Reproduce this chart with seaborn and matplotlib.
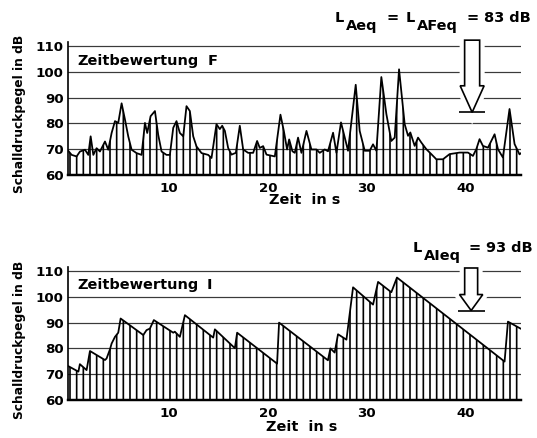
import matplotlib
matplotlib.use("Agg")
import matplotlib.pyplot as plt
import matplotlib.patheffects as pe
from matplotlib.patches import FancyArrow
import seaborn as sns

# Zeitbewertung F: Schalldruckpegel über der Zeit (s, dB)
f_time = [-0.2, 0.17, 0.67, 1.01, 1.52, 1.85, 2.09, 2.36, 2.69, 3.03, 3.54, 3.87,
          4.21, 4.55, 4.88, 5.22, 5.56, 5.89, 6.23, 6.73, 7.24, 7.58, 7.81, 8.15,
          8.59, 8.92, 9.26, 9.76, 10.1, 10.44, 10.77, 11.11, 11.45, 11.78, 12.12,
          12.46, 12.79, 13.3, 13.97, 14.31, 14.81, 15.15, 15.39, 15.66, 15.99,
          16.33, 16.77, 17.17, 17.51, 18.01, 18.52, 18.92, 19.19, 19.53, 19.87,
          20.71, 21.28, 21.62, 21.95, 22.16, 22.49, 22.73, 23.06, 23.4, 23.91,
          24.41, 24.92, 25.25, 25.76, 26.09, 26.6, 26.94, 27.4, 27.7, 28.11,
          28.89, 29.29, 29.8, 30.3, 30.64, 30.98, 31.48, 31.99, 32.49, 32.83,
          33.27, 33.84, 34.18, 34.41, 34.85, 35.19, 35.52, 36.03, 36.53, 37.04,
          37.71, 38.38, 39.39, 40.24, 40.74, 41.08, 41.41, 41.75, 42.26, 42.93,
          43.27, 43.77, 44.44, 44.95, 45.45, 45.6]
f_level = [69.5, 67.8, 67.2, 69.1, 69.8, 67.8, 75.0, 67.8, 70.4, 69.1, 73.0, 69.8,
           76.3, 80.9, 80.2, 87.8, 81.5, 75.0, 69.8, 68.5, 67.8, 80.2, 76.3, 82.8,
           84.8, 75.6, 69.1, 67.8, 67.8, 78.3, 80.9, 76.3, 75.0, 86.7, 84.8,
           75.0, 71.1, 68.5, 67.8, 66.6, 79.7, 77.8, 79.1, 77.1, 70.5,
           67.9, 68.6, 79.1, 69.9, 68.6, 68.6, 73.2, 70.5, 71.2, 67.9,
           67.2, 83.4, 77.1, 69.9, 73.8, 69.2, 68.6, 74.5, 68.6, 77.1,
           69.9, 69.9, 68.6, 69.9, 69.2, 76.4, 68.6, 80.4, 75.8, 69.4,
           95.0, 77.1, 69.4, 69.4, 71.9, 69.4, 98.0, 83.6, 73.2, 74.5,
           101.0, 79.7, 75.2, 76.5, 71.3, 74.5, 72.6, 70.0, 68.1, 66.1,
           66.1, 68.1, 68.7, 68.7, 67.4, 70.0, 73.9, 71.3, 70.6, 75.8,
           70.0, 66.8, 85.6, 72.0, 68.0, 68.5]

# Zeitbewertung I (Impuls): Sägezahnverlauf
i_time = [-0.2, 0.85, 1.0, 1.68, 2.02, 3.54, 3.7, 4.04, 4.21, 4.55, 4.88, 5.12,
          7.41, 7.74, 8.08, 8.48, 10.44, 10.6, 11.11, 11.62, 14.48, 14.65, 16.67,
          16.9, 20.94, 21.14, 26.08, 26.33, 26.76, 27.1, 27.95, 28.62, 30.64,
          31.15, 32.49, 33.06, 43.94, 44.28, 45.6]
i_level = [73.2, 71.0, 73.9, 71.6, 79.0, 75.5, 76.1, 79.6, 81.9, 84.5, 86.1, 91.6,
           85.2, 87.1, 87.7, 91.0, 86.1, 86.5, 84.5, 92.9, 84.2, 87.4, 80.1,
           86.1, 74.1, 90.0, 75.4, 80.0, 78.4, 85.5, 83.4, 103.7, 97.0,
           105.8, 101.8, 107.5, 74.9, 90.4, 87.6]

x_ticks = [10, 20, 30, 40]
y_ticks = [60, 70, 80, 90, 100, 110]

W, H, DPI = 537, 438, 80

sns.set_style("white")
plt.rcParams["font.family"] = ["DejaVu Sans"]
plt.rcParams["font.weight"] = "bold"
plt.rcParams["text.color"] = "black"
plt.rcParams["xtick.color"] = "black"
plt.rcParams["ytick.color"] = "black"
plt.rcParams["hatch.linewidth"] = 1.5
plt.rcParams["hatch.color"] = "black"


def fx(px):
    return px / W


def fy(py):
    return 1 - py / H


def draw_panel(ax, t, level, arrow_x, arrow_top, arrow_tip, shaft, head, head_len):
    # senkrechte Schraffur unter der Pegelkurve
    ax.fill_between(t, 60, level, facecolor="none", edgecolor="black",
                    hatch="||", linewidth=0, zorder=2)
    sns.lineplot(x=t, y=level, ax=ax, color="black", linewidth=1.6, zorder=3)
    ax.set_xlim(-0.2, 45.6)
    ax.set_ylim(60, 111.7)
    ax.set_xticks(x_ticks)
    ax.set_yticks(y_ticks)
    ax.tick_params(axis="both", length=0, labelsize=12, pad=4, labelcolor="black")
    ax.tick_params(axis="x", pad=6)
    ax.grid(axis="y", color="#3a3a3a", linewidth=1.1)
    ax.grid(axis="x", visible=False)
    for s in ["top", "right"]:
        ax.spines[s].set_visible(False)
    ax.spines["left"].set_linewidth(1.5)
    ax.spines["bottom"].set_linewidth(2.2)
    ax.spines["left"].set_color("black")
    ax.spines["bottom"].set_color("black")
    ax.set_xlabel("")
    ax.set_ylabel("")

    # Pfeil auf den Mittelungspegel
    arr = FancyArrow(arrow_x, arrow_top, 0, arrow_tip - arrow_top, width=shaft,
                     head_width=head, head_length=head_len, length_includes_head=True,
                     facecolor="white", edgecolor="black", linewidth=1.5,
                     clip_on=False, zorder=5)
    arr.set_path_effects([pe.Stroke(linewidth=9, foreground="white"), pe.Normal()])
    ax.add_patch(arr)
    ax.plot([arrow_x - 1.35, arrow_x + 1.35], [arrow_tip, arrow_tip], color="black",
            linewidth=1.5, zorder=6, solid_capstyle="butt")


fig = plt.figure(figsize=(W / DPI, H / DPI), dpi=DPI)

ax1 = fig.add_axes([fx(68), fy(175), fx(521) - fx(68), fy(41.7) - fy(175)])
draw_panel(ax1, f_time, f_level, 40.66, 112.3, 84.3, 1.52, 2.42, 10.3)

ax2 = fig.add_axes([fx(68), fy(400), fx(521) - fx(68), fy(266.7) - fy(400)])
draw_panel(ax2, i_time, i_level, 40.56, 111.2, 94.7, 1.31, 2.35, 6.2)

# Achsenbeschriftungen
for py_c in [114, 340]:
    fig.text(fx(20), fy(py_c), "Schalldruckpegel in dB", rotation=90,
             ha="center", va="center", fontsize=11)
for px_c, py_c in [(305, 200), (302, 427)]:
    fig.text(fx(px_c), fy(py_c), "Zeit  in s", ha="center", va="center", fontsize=13)

fig.text(fx(77), fy(65), "Zeitbewertung", ha="left", va="baseline", fontsize=13)
fig.text(fx(208), fy(65), "F", ha="left", va="baseline", fontsize=13)
fig.text(fx(77), fy(289), "Zeitbewertung", ha="left", va="baseline", fontsize=13)
fig.text(fx(207), fy(289), "I", ha="left", va="baseline", fontsize=13)

# L_Aeq = L_AFeq = 83 dB
for px, py, s in [(335, 22, "L"), (346, 30, "Aeq"), (387, 22, "="), (406, 22, "L"),
                  (417, 30, "AFeq"), (466, 22, "="), (484, 22, "83 dB")]:
    fig.text(fx(px), fy(py), s, ha="left", va="baseline", fontsize=13)

# L_AIeq = 93 dB
for px, py, s in [(413, 252, "L"), (424, 260, "AIeq"), (469, 252, "="), (486, 252, "93 dB")]:
    fig.text(fx(px), fy(py), s, ha="left", va="baseline", fontsize=13)

fig.savefig("out.png", dpi=DPI)
